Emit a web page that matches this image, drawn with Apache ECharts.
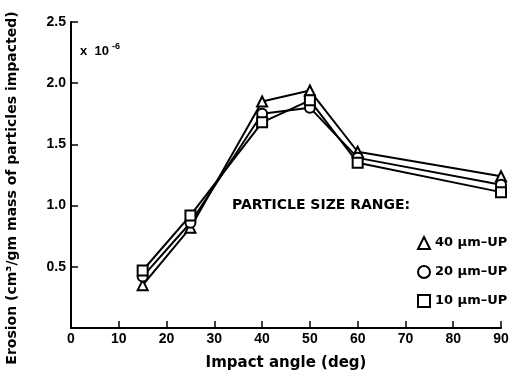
<!DOCTYPE html>
<html>
<head>
<meta charset="utf-8">
<script src="https://cdn.jsdelivr.net/npm/echarts@6/dist/echarts.min.js"></script>
<style>
	html, body { margin: 0; padding: 0; background: #fff; }
	#chart { width: 523px; height: 377px; }
</style>
</head>
<body>
<div id="chart"></div>
<script>
// impact angles (deg)
const angles = [15, 25, 40, 50, 60, 90];
// erosion x 1e-6 cm3/gm
const size40 = [0.35, 0.82, 1.85, 1.94, 1.44, 1.24];
const size20 = [0.42, 0.86, 1.75, 1.80, 1.39, 1.17];
const size10 = [0.47, 0.92, 1.68, 1.86, 1.35, 1.11];
const seriesNames = ['40 μm–UP', '20 μm–UP', '10 μm–UP'];
const seriesSymbols = ['triangle', 'circle', 'rect'];

const font = 'Liberation Sans, Arial, sans-serif';
const wide = 'DejaVu Sans, Liberation Sans, sans-serif';
const chart = echarts.init(document.getElementById('chart'));

const makeSeries = (name, values, symbol) => ({
	name: name,
	type: 'line',
	data: angles.map((a, i) => [a, values[i]]),
	symbol: symbol,
	symbolSize: 10,
	lineStyle: {color: '#000', width: 2},
	itemStyle: {color: '#fff', borderColor: '#000', borderWidth: 2},
	z: 3
});

chart.setOption({
	animation: false,
	backgroundColor: '#fff',
	grid: {left: 71, right: 22, top: 22, bottom: 49, outerBoundsMode: 'none'},
	legend: {
		orient: 'vertical',
		left: 412,
		top: 231,
		itemWidth: 12,
		itemHeight: 12,
		itemGap: 15,
		data: seriesNames.map((n, i) => ({
			name: n,
			icon: seriesSymbols[i],
			itemStyle: {color: '#fff', borderColor: '#000', borderWidth: 2}
		})),
		textStyle: {fontFamily: wide, fontWeight: 'bold', fontSize: 13, color: '#000'}
	},
	xAxis: {
		type: 'value',
		min: 0,
		max: 90,
		interval: 10,
		name: 'Impact angle (deg)',
		nameLocation: 'middle',
		nameGap: 28,
		nameTextStyle: {fontFamily: wide, fontWeight: 'bold', fontSize: 15, color: '#000'},
		axisLine: {lineStyle: {color: '#000', width: 2}},
		axisTick: {inside: true, length: 7, lineStyle: {color: '#000', width: 1.5}},
		axisLabel: {fontFamily: font, fontWeight: 'bold', fontSize: 14, color: '#000', margin: 4},
		splitLine: {show: false}
	},
	yAxis: {
		type: 'value',
		min: 0,
		max: 2.5,
		interval: 0.5,
		axisLine: {show: true, lineStyle: {color: '#000', width: 2}},
		axisTick: {show: true, inside: true, length: 7, lineStyle: {color: '#000', width: 1.5}},
		axisLabel: {
			fontFamily: font, fontWeight: 'bold', fontSize: 14, color: '#000', margin: 5,
			formatter: v => v === 0 ? '' : v.toFixed(1)
		},
		splitLine: {show: false}
	},
	graphic: [
		{
			// y axis title, placed lower than the grid middle as in the original
			type: 'text',
			x: 12,
			y: 188,
			rotation: Math.PI / 2,
			style: {
				text: 'Erosion (cm³/gm mass of particles impacted)',
				font: 'bold 14px ' + wide,
				fill: '#000',
				align: 'center',
				verticalAlign: 'middle'
			}
		},
		{
			type: 'text',
			left: 80,
			top: 45,
			style: {text: 'x  10', font: 'bold 13px ' + font, fill: '#000'}
		},
		{
			type: 'text',
			left: 112,
			top: 42,
			style: {text: '-6', font: 'bold 9px ' + font, fill: '#000'}
		},
		{
			type: 'text',
			left: 232,
			top: 198,
			style: {text: 'PARTICLE SIZE RANGE:', font: 'bold 14px ' + wide, fill: '#000'}
		}
	],
	series: [
		makeSeries(seriesNames[0], size40, seriesSymbols[0]),
		makeSeries(seriesNames[1], size20, seriesSymbols[1]),
		makeSeries(seriesNames[2], size10, seriesSymbols[2])
	]
});
</script>
</body>
</html>
